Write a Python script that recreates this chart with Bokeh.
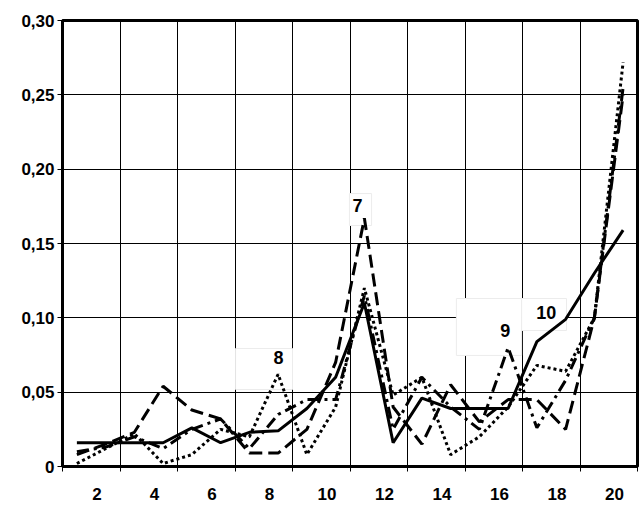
from bokeh.plotting import figure
from bokeh.models import FixedTicker, Range1d
from bokeh.embed import file_html
from bokeh.resources import INLINE
from bokeh.core.properties import value

# ---- data ----
x = list(range(1, 21))
series_10 = [0.016, 0.016, 0.016, 0.016, 0.026, 0.016, 0.023, 0.024, 0.039, 0.060,
             0.110, 0.016, 0.046, 0.039, 0.039, 0.039, 0.084, 0.099, 0.130, 0.159]
series_7 = [0.008, 0.015, 0.023, 0.054, 0.038, 0.032, 0.009, 0.009, 0.025, 0.070,
            0.167, 0.040, 0.015, 0.055, 0.030, 0.045, 0.045, 0.025, 0.100, 0.250]
series_8 = [0.002, 0.012, 0.022, 0.002, 0.008, 0.025, 0.020, 0.062, 0.008, 0.040,
            0.120, 0.048, 0.060, 0.008, 0.020, 0.040, 0.068, 0.064, 0.100, 0.272]
series_9 = [0.010, 0.013, 0.020, 0.012, 0.025, 0.032, 0.012, 0.035, 0.045, 0.045,
            0.115, 0.025, 0.060, 0.040, 0.025, 0.080, 0.026, 0.058, 0.100, 0.255]

y_ticks = [0, 0.05, 0.10, 0.15, 0.20, 0.25, 0.30]
y_tick_labels = ["0", "0,05", "0,10", "0,15", "0,20", "0,25", "0,30"]
x_tick_labels = ["2", "4", "6", "8", "10", "12", "14", "16", "18", "20"]

# series annotations
ann_text = ["7", "8", "9", "10"]
ann_x = [10.76, 8.01, 15.9, 17.33]
ann_y = [0.1756, 0.0733, 0.0915, 0.1036]
box_left = [10.48, 6.52, 14.2, 16.47]
box_right = [11.25, 8.5, 16.47, 18.03]
box_bottom = [0.1621, 0.0518, 0.0747, 0.0915]
box_top = [0.1836, 0.0794, 0.113, 0.113]

FONT = "Liberation Sans"

p = figure(width=639, height=509, output_backend="svg", toolbar_location=None,
           x_range=Range1d(0.5, 20.5), y_range=Range1d(0, 0.30),
           min_border_left=62, min_border_top=20, min_border_right=2,
           min_border_bottom=43)
p.background_fill_color = "white"
p.border_fill_color = "white"
p.outline_line_color = "black"
p.outline_line_width = 3

# x axis: labels between gridlines, tick marks at gridlines
n = len(x_tick_labels)
label_pos = [1.7 + 2 * i for i in range(n)]
grid_pos = [0.5 + 2 * i for i in range(n + 1)]
xa = p.xaxis[0]
xa.ticker = FixedTicker(ticks=label_pos, minor_ticks=grid_pos)
xa.major_label_overrides = {pos: lab for pos, lab in zip(label_pos, x_tick_labels)}
xa.major_tick_line_color = None
xa.major_tick_out = 0
xa.major_tick_in = 0
xa.minor_tick_out = 5
xa.minor_tick_in = 0
xa.minor_tick_line_color = "black"
xa.minor_tick_line_width = 1
xa.axis_line_width = 3
xa.axis_line_color = "black"
xa.major_label_standoff = 16
xa.major_label_text_font = FONT
xa.major_label_text_font_style = "bold"
xa.major_label_text_font_size = "17px"
xa.major_label_text_color = "black"

ya = p.yaxis[0]
ya.ticker = FixedTicker(ticks=y_ticks, minor_ticks=[])
ya.major_label_overrides = {t: lab for t, lab in zip(y_ticks, y_tick_labels)}
ya.major_tick_out = 5
ya.major_tick_in = 0
ya.major_tick_line_width = 1
ya.axis_line_width = 3
ya.axis_line_color = "black"
ya.major_label_standoff = 3
ya.major_label_text_font = FONT
ya.major_label_text_font_style = "bold"
ya.major_label_text_font_size = "17px"
ya.major_label_text_color = "black"

p.xgrid.ticker = FixedTicker(ticks=grid_pos)
p.xgrid.grid_line_color = "black"
p.xgrid.grid_line_width = 1
p.ygrid.ticker = FixedTicker(ticks=y_ticks)
p.ygrid.grid_line_color = "black"
p.ygrid.grid_line_width = 1

# white label boxes (under the lines)
p.quad(left=box_left, right=box_right, bottom=box_bottom, top=box_top,
       fill_color="white", line_color="#ececec", line_width=1)

p.line(x, series_9, line_color="black", line_width=3, line_dash="12 5 3 5")
p.line(x, series_7, line_color="black", line_width=3, line_dash="13 6")
p.line(x, series_8, line_color="black", line_width=3, line_dash="3 3")
p.line(x, series_10, line_color="black", line_width=3)

p.text(x=ann_x, y=ann_y, text=ann_text, text_font=value(FONT),
       text_font_size="18px", text_font_style="bold", text_align="center",
       text_baseline="middle", text_color="black")

open("out.html", "w").write(file_html(p, INLINE))
